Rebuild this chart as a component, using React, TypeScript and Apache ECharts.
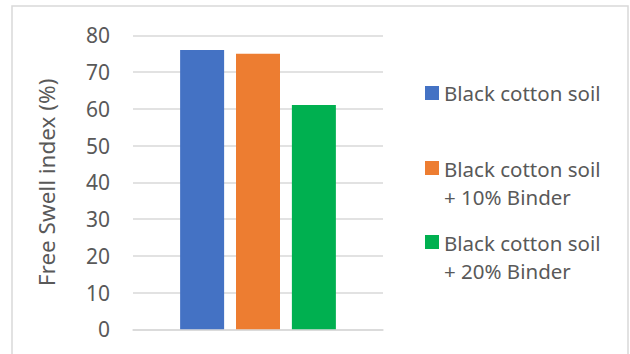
import React, { useEffect, useRef } from "react";
import * as echarts from "echarts";

// Free swell index of the soil mixes
const categories = [""];
const seriesNames = [
  "Black cotton soil",
  "Black cotton soil + 10% Binder",
  "Black cotton soil + 20% Binder",
];
const seriesValues = [76, 75, 61];
const seriesColors = ["#4472C4", "#ED7D31", "#00B050"];
const yAxisTitle = "Free Swell index (%)";

const FONT = "'Noto Sans', sans-serif";
const TEXT = "#595959";

// legend markers: a square inside a taller invisible box so it sits on the first text line
const iconCentered = "path://M0,14.5h14v14h-14z M0,0h0.01v0.01h-0.01z M0,43h0.01v0.01h-0.01z";
const iconTop = "path://M0,0h14v14h-14z M0,43h0.01v0.01h-0.01z";
const legendTops = [71.5, 154.5, 228.5];

export default function App() {
  const ref = useRef<HTMLDivElement>(null);

  useEffect(() => {
    if (!ref.current) return;
    const chart = echarts.init(ref.current, null, { renderer: "svg" });

    const legends = seriesNames.map((name, i) => ({
      show: true,
      orient: "vertical",
      left: 425,
      top: legendTops[i],
      padding: 0,
      itemWidth: 14,
      itemHeight: 43,
      data: [{ name, icon: i === 0 ? iconCentered : iconTop }],
      formatter: (n: string) => n.replace(" + ", "\n+ "),
      textStyle: { color: TEXT, fontSize: 20.5, fontFamily: FONT, lineHeight: 28 },
      selectedMode: false,
    }));

    chart.setOption({
      animation: false,
      backgroundColor: "#ffffff",
      textStyle: { fontFamily: FONT },
      graphic: [
        {
          type: "rect",
          shape: { x: 12, y: 6, width: 616, height: 380 },
          style: { fill: "none", stroke: "#d9d9d9", lineWidth: 1.5 },
          silent: true,
        },
      ],
      legend: legends,
      grid: { left: 133, right: 247, top: 35.3, bottom: 24.7, containLabel: false },
      xAxis: {
        type: "category",
        data: categories,
        axisLine: { show: true, lineStyle: { color: "#d9d9d9", width: 1.5 } },
        axisTick: { show: false },
        axisLabel: { show: false },
      },
      yAxis: {
        type: "value",
        min: 0,
        max: 80,
        interval: 10,
        name: yAxisTitle,
        nameLocation: "middle",
        nameGap: 75,
        nameTextStyle: { color: TEXT, fontSize: 22.5, fontFamily: FONT },
        axisLine: { show: false },
        axisTick: { show: false },
        axisLabel: { color: TEXT, fontSize: 21, fontFamily: FONT, margin: 23 },
        splitLine: { lineStyle: { color: "#d9d9d9", width: 1.5 } },
      },
      series: seriesNames.map((name, i) => ({
        type: "bar",
        name,
        data: [seriesValues[i]],
        barWidth: 44,
        barGap: "27%",
        itemStyle: { color: seriesColors[i] },
      })),
    });

    return () => chart.dispose();
  }, []);

  return (
    <div
      ref={ref}
      style={{ position: "fixed", left: 0, top: 0, width: 630, height: 354 }}
    />
  );
}
